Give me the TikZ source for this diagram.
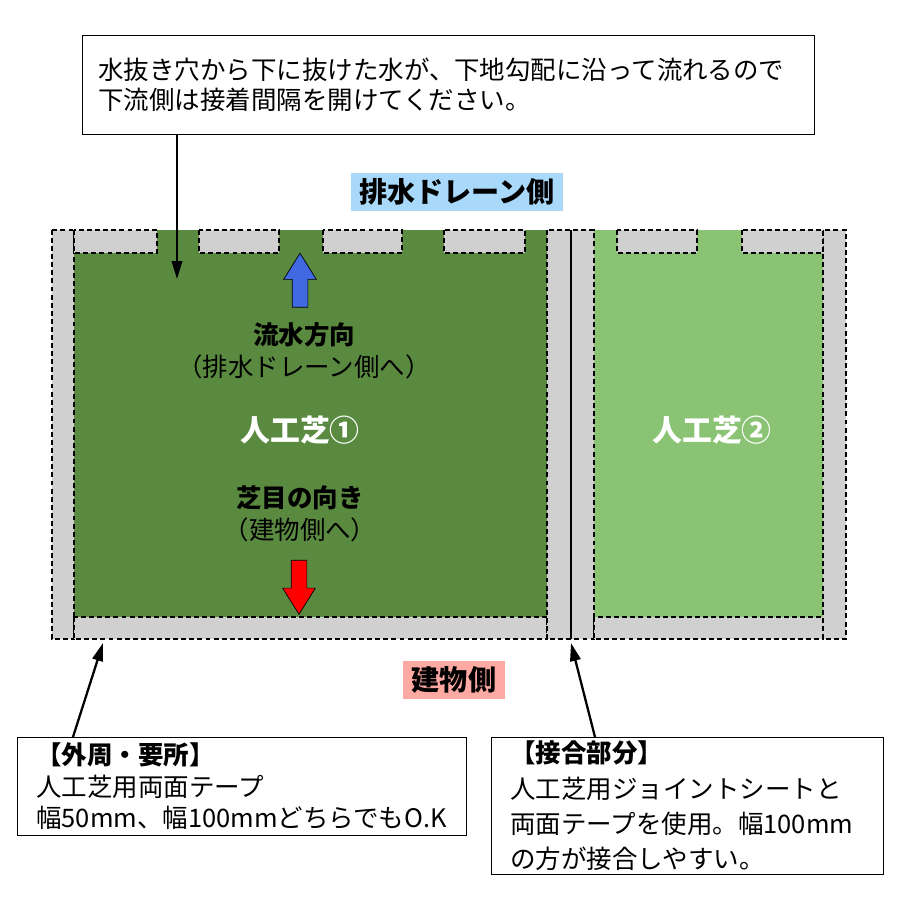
\documentclass[tikz,border=0pt]{standalone}
\usepackage{fontspec}
\setmainfont{Noto Sans CJK JP}
\usetikzlibrary{shapes}
\usetikzlibrary{arrows.meta}

\definecolor{turfdark}{HTML}{5A8A40}
\definecolor{turflight}{HTML}{8BC374}
\definecolor{tapegrey}{HTML}{D0D0D0}
\definecolor{flowblue}{HTML}{4169E1}
\definecolor{drainbg}{HTML}{A8D8FA}
\definecolor{buildbg}{HTML}{FFA9A3}

\begin{document}
\begin{tikzpicture}[x=0.02cm,y=-0.02cm,
notebox/.style={rectangle, draw=black, thin, fill=white, anchor=north west, align=left, inner ysep=0pt},
tapestrip/.style={draw=black, fill=tapegrey, dash pattern=on 2.8pt off 1.8pt, line width=1pt},
sidelabel/.style={rectangle, inner xsep=0.17cm, minimum height=0.74cm, font=\fontsize{16}{16}\selectfont\bfseries},
turflabel/.style={text=white, font=\fontsize{17}{17}\selectfont\bfseries},
panelnote/.style={align=center, font=\fontsize{14.5}{18}\selectfont},
fat arrow/.style={single arrow, draw=black, thin, inner sep=0.15cm, minimum height=1.08cm, single arrow head extend=0.17cm, single arrow tip angle=64},
pointer/.style={-{Triangle[length=3.6mm,width=2.1mm]}, line width=1.3pt}
]
\useasboundingbox (0,0) rectangle (900,900);

%Turf panels
\fill[turfdark] (74,230) rectangle (547,617);
\fill[turflight] (594,230) rectangle (823,617);

%Tape
\draw[tapestrip] (52,230) rectangle (74,639);
\draw[tapestrip] (74,617) rectangle (547,639);
\draw[tapestrip] (547,230) rectangle (594,639);
\draw[tapestrip] (594,617) rectangle (823,639);
\draw[tapestrip] (823,230) rectangle (846,639);
\foreach \xa/\xb in {74/157, 199/279, 323/402, 444/525, 617/697, 742/823}
  \draw[tapestrip] (\xa,230) rectangle (\xb,253);
\draw[thick] (571,230) -- (571,639);

%Nodes
\node[notebox, minimum width=14.64cm, minimum height=1.98cm, inner xsep=0.32cm, text width=14.0cm,
  font=\fontsize{14.5}{17}\selectfont] at (82,35) (note-top)
  {水抜き穴から下に抜けた水が、下地勾配に沿って流れるので\\下流側は接着間隔を開けてください。};

\node[sidelabel, fill=drainbg] at (457,192) (drain-side) {排水ドレーン側};
\node[sidelabel, fill=buildbg] at (454,680) (building-side) {建物側};

\node[fat arrow, fill=flowblue, rotate=90] at (300,286.5) (flow-arrow) {};
\node[panelnote] at (304,351) (flow-note) {\textbf{流水方向}\\（排水ドレーン側へ）};
\node[turflabel] at (300,430) (turf-1) {人工芝①};
\node[turflabel] at (712,430) (turf-2) {人工芝②};
\node[panelnote] at (300,514) (pile-note) {\textbf{芝目の向き}\\（建物側へ）};
\node[fat arrow, fill=red, rotate=-90] at (299,581) (pile-arrow) {};

\node[notebox, minimum width=8.98cm, minimum height=1.96cm, inner xsep=0.38cm, text width=8.22cm,
  font=\fontsize{14.5}{18}\selectfont] at (17,737) (note-outer)
  {\textbf{【外周・要所】}\\人工芝用両面テープ\\幅50mm、幅100mmどちらでもO.K};
\node[notebox, minimum width=7.84cm, minimum height=2.74cm, inner xsep=0.38cm, text width=7.08cm,
  font=\fontsize{14.5}{20}\selectfont] at (491,737) (note-joint)
  {\textbf{【接合部分】}\\人工芝用ジョイントシートと\\両面テープを使用。幅100mm\\の方が接合しやすい。};

\coordinate (drain-hole) at (177,279);
\coordinate (edge-tape) at (103,643);
\coordinate (joint-tape) at (571,643);

%Lines
\draw[pointer] (note-top.south -| drain-hole) -- (drain-hole);
\draw[pointer] ([xshift=1.12cm]note-outer.north west) -- (edge-tape);
\draw[pointer] ([xshift=2.08cm]note-joint.north west) -- (joint-tape);
\end{tikzpicture}
\end{document}
